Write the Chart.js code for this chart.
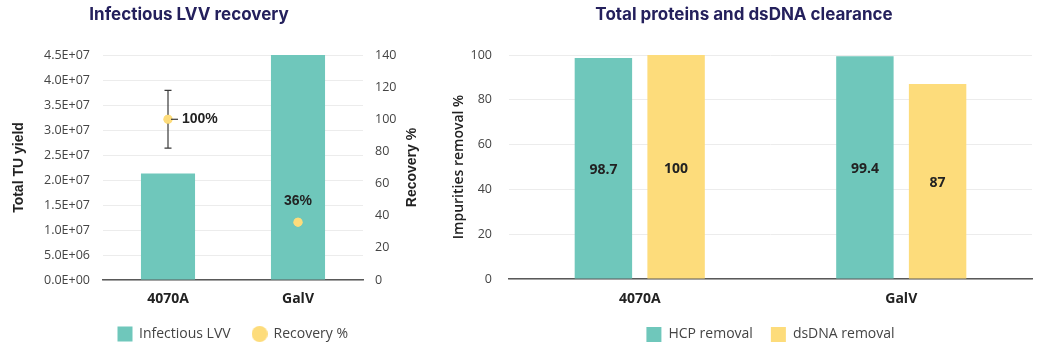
<!DOCTYPE html>
<html>
<head>
<meta charset="utf-8">
<script src="https://cdn.jsdelivr.net/npm/chart.js@4"></script>
<style>
  body { margin: 0; background: #fff; }
  .wrap { position: absolute; top: 0; height: 348px; }
  .title { position: absolute; top: 4px; font: 700 17px Inter, sans-serif; color: #24205c; white-space: nowrap; transform: translateX(-50%); }
</style>
</head>
<body>
<div class="wrap" style="left:440px;width:598px"><canvas id="clearChart"></canvas></div>
<div class="wrap" style="left:0;width:466px"><canvas id="lvvChart"></canvas></div>
<div class="title" style="left:189px">Infectious LVV recovery</div>
<div class="title" style="left:744px">Total proteins and dsDNA clearance</div>
<script>
// data
const vectors = ['4070A', 'GalV'];
const tuYield = [2.13e7, 4.5e7];
const recoveryPct = [100, 36];
const recoveryErr = [18, null];
const tuTickLabels = ['0.0E+00', '5.0E+06', '1.0E+07', '1.5E+07', '2.0E+07', '2.5E+07', '3.0E+07', '3.5E+07', '4.0E+07', '4.5E+07'];
const hcpRemoval = [98.7, 99.4];
const dsdnaRemoval = [100, 87];

const TEAL = '#6fc7bb';
const YELLOW = '#fddc7b';
const BOLD_SANS = "'Liberation Sans', Arial, sans-serif";

Chart.defaults.font.family = "'Open Sans', sans-serif";
Chart.defaults.color = '#444';
Chart.defaults.animation = false;

function swatch(color, round) {
  const c = document.createElement('canvas');
  c.width = c.height = 16;
  const g = c.getContext('2d');
  g.fillStyle = color;
  if (round) { g.beginPath(); g.arc(8, 8, 8, 0, Math.PI * 2); g.fill(); }
  else g.fillRect(0.5, 0.5, 15, 15);
  return c;
}
const lvvSwatches = [swatch(TEAL, false), swatch(YELLOW, true)];

const axisTitle = (text, pad, font) => ({ display: true, text, color: '#222', padding: { top: pad, bottom: 0 }, font });

// error bar, point labels and the right axis title (reads bottom to top) on the left chart
const lvvOverlay = {
  id: 'lvvOverlay',
  afterDatasetsDraw(chart) {
    const { ctx, scales, chartArea } = chart;
    const pts = chart.getDatasetMeta(1).data;
    ctx.save();
    ctx.strokeStyle = '#3a3a3a';
    ctx.lineWidth = 1.2;
    recoveryErr.forEach((e, i) => {
      if (e == null) return;
      const x = pts[i].x;
      const top = scales.y1.getPixelForValue(recoveryPct[i] + e);
      const bot = scales.y1.getPixelForValue(recoveryPct[i] - e);
      ctx.beginPath();
      ctx.moveTo(x, top); ctx.lineTo(x, bot);
      ctx.moveTo(x - 3.5, top); ctx.lineTo(x + 3.5, top);
      ctx.moveTo(x - 3.5, bot); ctx.lineTo(x + 3.5, bot);
      ctx.stroke();
    });
    // points back on top of the error bars
    pts.forEach(p => {
      ctx.fillStyle = YELLOW;
      ctx.beginPath(); ctx.arc(p.x, p.y, 4.5, 0, Math.PI * 2); ctx.fill();
    });
    ctx.font = 'bold 14px ' + BOLD_SANS;
    ctx.fillStyle = '#222';
    ctx.textBaseline = 'middle';
    pts.forEach((p, i) => {
      const txt = recoveryPct[i] + '%';
      if (recoveryErr[i] != null) {
        ctx.beginPath(); ctx.moveTo(p.x + 3, p.y); ctx.lineTo(p.x + 10, p.y); ctx.stroke();
        ctx.textAlign = 'left';
        ctx.fillText(txt, p.x + 14, p.y);
      } else {
        ctx.textAlign = 'center';
        ctx.fillText(txt, p.x, p.y - 21);
      }
    });
    ctx.translate(412, (chartArea.top + chartArea.bottom) / 2);
    ctx.rotate(-Math.PI / 2);
    ctx.textAlign = 'center';
    ctx.fillText('Recovery %', 0, 0);
    ctx.restore();
  }
};

// value labels in the middle of each bar
const barLabels = {
  id: 'barLabels',
  afterDatasetsDraw(chart) {
    const { ctx } = chart;
    ctx.save();
    ctx.font = "bold 14px 'Open Sans', sans-serif";
    ctx.fillStyle = '#222';
    ctx.textAlign = 'center';
    ctx.textBaseline = 'middle';
    chart.data.datasets.forEach((ds, di) => {
      chart.getDatasetMeta(di).data.forEach((bar, i) => {
        ctx.fillText(String(ds.data[i]), bar.x, (bar.y + bar.base) / 2 + 2);
      });
    });
    ctx.restore();
  }
};

new Chart(document.getElementById('lvvChart'), {
  type: 'bar',
  data: {
    labels: vectors,
    datasets: [{
      label: 'Infectious LVV',
      data: tuYield,
      backgroundColor: TEAL,
      yAxisID: 'y',
      order: 1,
      categoryPercentage: 0.8,
      barPercentage: 0.52
    }, {
      type: 'line',
      label: 'Recovery %',
      data: recoveryPct,
      yAxisID: 'y1',
      showLine: false,
      order: 0,
      pointRadius: 4.5,
      pointBorderWidth: 0,
      pointBackgroundColor: YELLOW,
      backgroundColor: YELLOW,
      borderColor: YELLOW
    }]
  },
  options: {
    responsive: true,
    maintainAspectRatio: false,
    layout: { padding: { top: 55, bottom: -3, left: 0, right: 0 } },
    scales: {
      x: {
        grid: { display: false, drawTicks: false },
        border: { color: '#595959', width: 1.5 },
        ticks: { color: '#222', padding: 11, font: { size: 14, weight: 'bold' } },
        afterFit: s => { s.height = 25; }
      },
      y: {
        position: 'left',
        min: 0, max: 4.5e7,
        ticks: { stepSize: 5e6, padding: 13, font: { size: 12.5 }, callback: (v, i) => tuTickLabels[i] },
        grid: { color: '#ececec', drawTicks: false },
        border: { display: false },
        title: axisTitle('Total TU yield', 11, { family: BOLD_SANS, size: 14, weight: 'bold' }),
        afterFit: s => { s.width = 103; }
      },
      y1: {
        position: 'right',
        min: 0, max: 140,
        ticks: { stepSize: 20, padding: 12, font: { size: 12.5 } },
        grid: { display: false, drawTicks: false },
        border: { display: false },
        afterFit: s => { s.width = 103; }
      }
    },
    plugins: {
      tooltip: { enabled: false },
      legend: {
        position: 'bottom',
        labels: {
          usePointStyle: true,
          boxWidth: 16, boxHeight: 16,
          padding: 22,
          color: '#444',
          font: { size: 14 },
          sort: (a, b) => a.datasetIndex - b.datasetIndex,
          generateLabels: chart => Chart.defaults.plugins.legend.labels.generateLabels(chart)
            .map(l => ({ ...l, pointStyle: lvvSwatches[l.datasetIndex] }))
        }
      }
    }
  },
  plugins: [lvvOverlay]
});

new Chart(document.getElementById('clearChart'), {
  type: 'bar',
  data: {
    labels: vectors,
    datasets: [{
      label: 'HCP removal',
      data: hcpRemoval,
      backgroundColor: TEAL
    }, {
      label: 'dsDNA removal',
      data: dsdnaRemoval,
      backgroundColor: YELLOW
    }]
  },
  options: {
    responsive: true,
    maintainAspectRatio: false,
    categoryPercentage: 0.556,
    barPercentage: 0.79,
    layout: { padding: { top: 55, bottom: -4, left: 0, right: 6 } },
    scales: {
      x: {
        grid: { display: false, drawTicks: false },
        border: { color: '#595959', width: 1.5 },
        ticks: { color: '#222', padding: 12, font: { size: 14, weight: 'bold' } },
        afterFit: s => { s.height = 30; }
      },
      y: {
        min: 0, max: 100,
        ticks: { stepSize: 20, padding: 17, font: { size: 12.5 } },
        grid: { color: '#ececec', drawTicks: false },
        border: { display: false },
        title: axisTitle('Impurities removal %', 11, { size: 14, weight: 600 }),
        afterFit: s => { s.width = 69; }
      }
    },
    plugins: {
      tooltip: { enabled: false },
      legend: {
        position: 'bottom',
        fullSize: false,
        labels: { boxWidth: 15, boxHeight: 15, padding: 18, color: '#444', font: { size: 14 } }
      }
    }
  },
  plugins: [barLabels]
});
</script>
</body>
</html>
